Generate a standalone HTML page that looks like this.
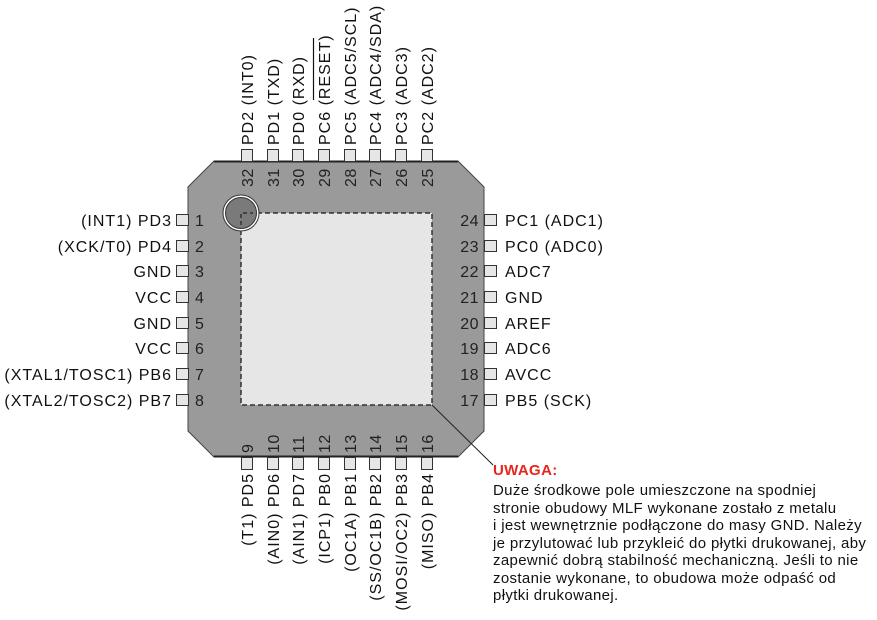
<!DOCTYPE html>
<html><head><meta charset="utf-8"><style>
body{margin:0;background:#fff;}
svg{display:block;}
text{font-family:"Liberation Sans",Arial,sans-serif;font-size:16px;letter-spacing:1px;fill:#111;}
.n{font-size:16px;fill:#222;letter-spacing:0.5px;}
.note{font-size:15px;letter-spacing:0.35px;fill:#111;}
</style></head><body>
<svg width="877" height="620" viewBox="0 0 877 620" xmlns="http://www.w3.org/2000/svg">
<polygon points="214,161 458,161 484,187 484,431 458,457 214,457 188,431 188,187" fill="#9a9a9a" stroke="#444" stroke-width="1"/>
<line x1="214" y1="161.5" x2="458" y2="161.5" stroke="#222" stroke-width="2"/>
<line x1="214" y1="456.5" x2="458" y2="456.5" stroke="#222" stroke-width="2"/>
<rect x="241" y="213" width="191" height="192" fill="#e6e6e6" stroke="#333" stroke-width="1.5" stroke-dasharray="5,3"/>
<circle cx="241" cy="213" r="18" fill="#fff" stroke="#333" stroke-width="1"/>
<circle cx="241" cy="213" r="15.5" fill="#7a7a7a" stroke="#333" stroke-width="1"/>
<path d="M241,225 V213 H253" fill="none" stroke="#333" stroke-width="1.5" stroke-dasharray="4,3"/>
<line x1="432" y1="405" x2="493" y2="465" stroke="#222" stroke-width="1"/>
<g fill="#e6e6e6" stroke="#333" stroke-width="1">
<rect x="176.5" y="214.5" width="12" height="11"/>
<rect x="176.5" y="240.5" width="12" height="11"/>
<rect x="176.5" y="265.5" width="12" height="11"/>
<rect x="176.5" y="291.5" width="12" height="11"/>
<rect x="176.5" y="317.5" width="12" height="11"/>
<rect x="176.5" y="342.5" width="12" height="11"/>
<rect x="176.5" y="368.5" width="12" height="11"/>
<rect x="176.5" y="394.5" width="12" height="11"/>
<rect x="484.5" y="214.5" width="12" height="11"/>
<rect x="484.5" y="240.5" width="12" height="11"/>
<rect x="484.5" y="265.5" width="12" height="11"/>
<rect x="484.5" y="291.5" width="12" height="11"/>
<rect x="484.5" y="317.5" width="12" height="11"/>
<rect x="484.5" y="342.5" width="12" height="11"/>
<rect x="484.5" y="368.5" width="12" height="11"/>
<rect x="484.5" y="394.5" width="12" height="11"/>
<rect x="241.5" y="149.5" width="11" height="12"/>
<rect x="267.5" y="149.5" width="11" height="12"/>
<rect x="292.5" y="149.5" width="11" height="12"/>
<rect x="318.5" y="149.5" width="11" height="12"/>
<rect x="344.5" y="149.5" width="11" height="12"/>
<rect x="369.5" y="149.5" width="11" height="12"/>
<rect x="395.5" y="149.5" width="11" height="12"/>
<rect x="421.5" y="149.5" width="11" height="12"/>
<rect x="241.5" y="457.5" width="11" height="12"/>
<rect x="267.5" y="457.5" width="11" height="12"/>
<rect x="292.5" y="457.5" width="11" height="12"/>
<rect x="318.5" y="457.5" width="11" height="12"/>
<rect x="344.5" y="457.5" width="11" height="12"/>
<rect x="369.5" y="457.5" width="11" height="12"/>
<rect x="395.5" y="457.5" width="11" height="12"/>
<rect x="421.5" y="457.5" width="11" height="12"/>
</g>
<g text-anchor="end">
<text x="172" y="226">(INT1) PD3</text>
<text x="172" y="252">(XCK/T0) PD4</text>
<text x="172" y="277">GND</text>
<text x="172" y="303">VCC</text>
<text x="172" y="329">GND</text>
<text x="172" y="354">VCC</text>
<text x="172" y="380">(XTAL1/TOSC1) PB6</text>
<text x="172" y="406">(XTAL2/TOSC2) PB7</text>
</g>
<g>
<text class="n" x="195" y="226">1</text><text class="n" x="195" y="252">2</text><text class="n" x="195" y="277">3</text><text class="n" x="195" y="303">4</text>
<text class="n" x="195" y="329">5</text><text class="n" x="195" y="354">6</text><text class="n" x="195" y="380">7</text><text class="n" x="195" y="406">8</text>
</g>
<g text-anchor="end">
<text class="n" x="479" y="226">24</text><text class="n" x="479" y="252">23</text><text class="n" x="479" y="277">22</text><text class="n" x="479" y="303">21</text>
<text class="n" x="479" y="329">20</text><text class="n" x="479" y="354">19</text><text class="n" x="479" y="380">18</text><text class="n" x="479" y="406">17</text>
</g>
<g>
<text x="505" y="226">PC1 (ADC1)</text>
<text x="505" y="252">PC0 (ADC0)</text>
<text x="505" y="277">ADC7</text>
<text x="505" y="303">GND</text>
<text x="505" y="329">AREF</text>
<text x="505" y="354">ADC6</text>
<text x="505" y="380">AVCC</text>
<text x="505" y="406">PB5 (SCK)</text>
</g>
<g>
<text transform="translate(253,145) rotate(-90)">PD2 (INT0)</text>
<text transform="translate(279,145) rotate(-90)">PD1 (TXD)</text>
<text transform="translate(304,145) rotate(-90)">PD0 (RXD)</text>
<text transform="translate(330,145) rotate(-90)">PC6 (RESET)</text>
<text transform="translate(356,145) rotate(-90)">PC5 (ADC5/SCL)</text>
<text transform="translate(381,145) rotate(-90)">PC4 (ADC4/SDA)</text>
<text transform="translate(407,145) rotate(-90)">PC3 (ADC3)</text>
<text transform="translate(433,145) rotate(-90)">PC2 (ADC2)</text>
</g>
<line x1="313.5" y1="38" x2="313.5" y2="100" stroke="#111" stroke-width="1.2"/>
<g>
<text class="n" transform="translate(253,187) rotate(-90)">32</text>
<text class="n" transform="translate(279,187) rotate(-90)">31</text>
<text class="n" transform="translate(304,187) rotate(-90)">30</text>
<text class="n" transform="translate(330,187) rotate(-90)">29</text>
<text class="n" transform="translate(356,187) rotate(-90)">28</text>
<text class="n" transform="translate(381,187) rotate(-90)">27</text>
<text class="n" transform="translate(407,187) rotate(-90)">26</text>
<text class="n" transform="translate(433,187) rotate(-90)">25</text>
<text class="n" transform="translate(253,453) rotate(-90)">9</text>
<text class="n" transform="translate(279,453) rotate(-90)">10</text>
<text class="n" transform="translate(304,453) rotate(-90)">11</text>
<text class="n" transform="translate(330,453) rotate(-90)">12</text>
<text class="n" transform="translate(356,453) rotate(-90)">13</text>
<text class="n" transform="translate(381,453) rotate(-90)">14</text>
<text class="n" transform="translate(407,453) rotate(-90)">15</text>
<text class="n" transform="translate(433,453) rotate(-90)">16</text>
</g>
<g text-anchor="end">
<text transform="translate(253,473) rotate(-90)">(T1) PD5</text>
<text transform="translate(279,473) rotate(-90)">(AIN0) PD6</text>
<text transform="translate(304,473) rotate(-90)">(AIN1) PD7</text>
<text transform="translate(330,473) rotate(-90)">(ICP1) PB0</text>
<text transform="translate(356,473) rotate(-90)">(OC1A) PB1</text>
<text transform="translate(381,473) rotate(-90)">(SS/OC1B) PB2</text>
<text transform="translate(407,473) rotate(-90)">(MOSI/OC2) PB3</text>
<text transform="translate(433,473) rotate(-90)">(MISO) PB4</text>
</g>
<text x="493" y="475" class="note" style="fill:#e8261c;font-weight:bold;">UWAGA:</text>
<text class="note" x="493" y="495">Duże środkowe pole umieszczone na spodniej</text>
<text class="note" x="493" y="513">stronie obudowy MLF wykonane zostało z metalu</text>
<text class="note" x="493" y="530">i jest wewnętrznie podłączone do masy GND. Należy</text>
<text class="note" x="493" y="548">je przylutować lub przykleić do płytki drukowanej, aby</text>
<text class="note" x="493" y="565">zapewnić dobrą stabilność mechaniczną. Jeśli to nie</text>
<text class="note" x="493" y="583">zostanie wykonane, to obudowa może odpaść od</text>
<text class="note" x="493" y="600">płytki drukowanej.</text>
</svg>
</body></html>
